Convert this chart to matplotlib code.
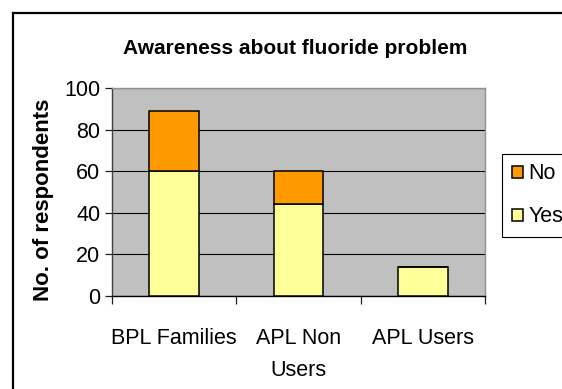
import matplotlib
matplotlib.use("Agg")
import matplotlib.pyplot as plt
from matplotlib.lines import Line2D

# Survey data
categories = ["BPL Families", "APL Non\nUsers", "APL Users"]
yes_values = [60, 44, 14]
no_values = [29, 16, 0]
series_names = ["Yes", "No"]
y_ticks = [0, 20, 40, 60, 80, 100]

W, H = 562, 389
plt.rcParams["font.family"] = ["Liberation Sans", "DejaVu Sans"]

fig = plt.figure(figsize=(W / 100, H / 100), dpi=100)
fig.patch.set_facecolor("white")

ax = fig.add_axes([112 / W, 1 - 295.7 / H, (485 - 112) / W, (295.7 - 88.3) / H])
ax.set_facecolor("#C0C0C0")

x = list(range(len(categories)))
bars_yes = ax.bar(x, yes_values, width=0.4, color="#FFFF99", edgecolor="black",
                  linewidth=1.1, zorder=3, label=series_names[0])
bars_no = ax.bar(x, no_values, width=0.4, bottom=yes_values, color="#FF9900",
                 edgecolor="black", linewidth=1.1, zorder=3, label=series_names[1])

ax.set_xlim(-0.5, len(categories) - 0.5)
ax.set_ylim(0, 100)
ax.set_yticks(y_ticks)
ax.yaxis.grid(True, color="black", linewidth=0.8, zorder=1)
ax.set_axisbelow(True)

# category boundaries carry the tick marks, centres carry the labels
ax.set_xticks([i - 0.5 for i in range(len(categories) + 1)])
ax.set_xticklabels([])
ax.set_xticks(x, minor=True)
ax.set_xticklabels(categories, minor=True, fontsize=15.5, linespacing=1.7)
ax.tick_params(axis="x", which="major", direction="out", length=5.5, width=0.9, color="#202020")
ax.tick_params(axis="x", which="minor", length=0, pad=23)
ax.tick_params(axis="y", direction="out", length=5, width=0.9, color="#202020",
               labelsize=15.5, pad=3.5)

for side in ("top", "right"):
    ax.spines[side].set_color("#909090")
    ax.spines[side].set_linewidth(1.0)
ax.spines["left"].set_color("#404040")
ax.spines["bottom"].set_color("black")
ax.spines["left"].set_linewidth(1.0)
ax.spines["bottom"].set_linewidth(1.0)

fig.text(294.7 / W, 1 - 54 / H, "Awareness about fluoride problem",
         ha="center", va="baseline", fontsize=15, fontweight="bold")
fig.text(44 / W, 1 - 200 / H, "No. of respondents", rotation=90,
         ha="center", va="center", fontsize=16, fontweight="bold")

leg = ax.legend(handles=[bars_no, bars_yes], labels=[series_names[1], series_names[0]],
                loc="upper left",
                bbox_to_anchor=(502.3 / W, 1 - 153.8 / H, 68 / W, 0.0),
                bbox_transform=fig.transFigure, mode="expand", borderaxespad=0,
                fontsize=15.5, frameon=True, fancybox=False, framealpha=1,
                edgecolor="black", handlelength=0.51, handleheight=0.45,
                handletextpad=0.26, borderpad=0.45, labelspacing=1.02)
leg.get_frame().set_linewidth(0.8)

# chart-area border (top and left edges; the rest runs off the canvas)
bx, by = 13 / W, 1 - 13 / H
fig.add_artist(Line2D([bx, 1.02], [by, by], transform=fig.transFigure,
                      color="black", linewidth=1.6, solid_capstyle="projecting"))
fig.add_artist(Line2D([bx, bx], [by, -0.02], transform=fig.transFigure,
                      color="black", linewidth=1.6, solid_capstyle="projecting"))

fig.savefig("out.png", dpi=100)
